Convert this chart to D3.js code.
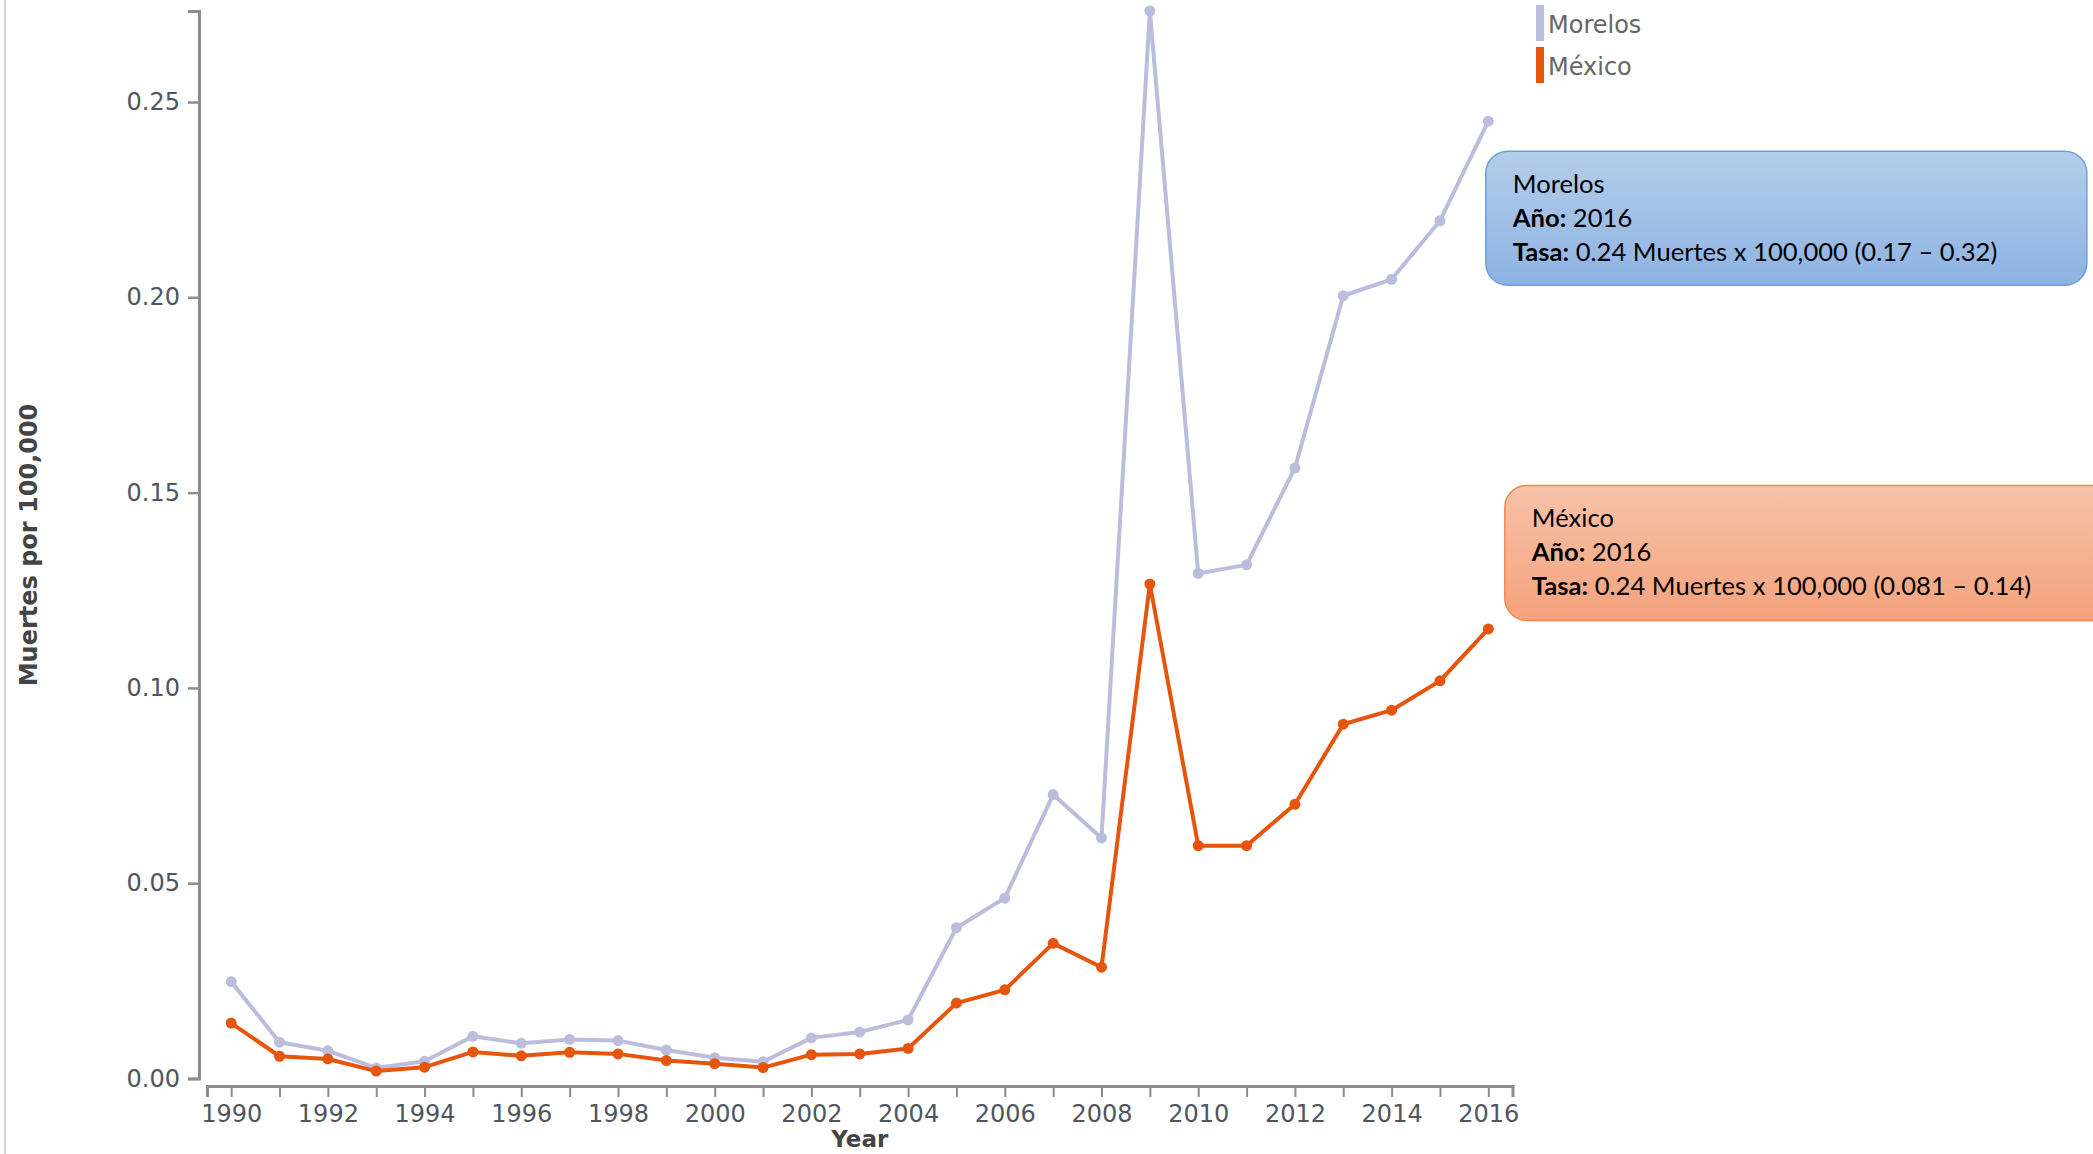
<!DOCTYPE html>
<html><head><meta charset="utf-8">
<script src="https://cdn.jsdelivr.net/npm/d3@7"></script>
<style>body{margin:0;background:#fff} svg{display:block}</style>
</head><body>
<svg id="chart" width="2093" height="1154"></svg>
<script>
// ---- data ----
const years = [1990,1991,1992,1993,1994,1995,1996,1997,1998,1999,2000,2001,2002,2003,2004,2005,2006,2007,2008,2009,2010,2011,2012,2013,2014,2015,2016];
const morelos = [0.0248,0.0093,0.0071,0.0027,0.0044,0.0108,0.0090,0.0100,0.0097,0.0073,0.0053,0.0043,0.0104,0.0119,0.0150,0.0386,0.0462,0.0727,0.0616,0.2733,0.1293,0.1315,0.1563,0.2004,0.2046,0.2196,0.2451];
const mexico = [0.0142,0.0057,0.0050,0.0019,0.0029,0.0068,0.0058,0.0067,0.0063,0.0046,0.0038,0.0028,0.0061,0.0063,0.0077,0.0193,0.0227,0.0346,0.0285,0.1266,0.0596,0.0596,0.0702,0.0907,0.0943,0.1018,0.1151];
const seriesNames = ["Morelos", "México"];
const seriesColors = ["#bcbddc", "#e6550d"];
const yTicks = [0, 0.05, 0.10, 0.15, 0.20, 0.25];
const xLabelYears = [1990,1992,1994,1996,1998,2000,2002,2004,2006,2008,2010,2012,2014,2016];
const yTitle = "Muertes por 100,000";
const xTitle = "Year";
// tooltip contents
const tipSeries = ["Morelos", "México"];
const tipYear = [2016, 2016];
const tipRate = ["0.24", "0.24"];
const tipCI = ["0.17 – 0.32", "0.081 – 0.14"];

// ---- chart ----
const svg = d3.select("#chart");
const axisFont = "'DejaVu Sans', Verdana, sans-serif";

// page border line at left
svg.append("line").attr("x1",5).attr("x2",5).attr("y1",0).attr("y2",1154)
  .attr("stroke","#d4d4d4").attr("stroke-width",2);

const x = d3.scaleLinear().domain([d3.min(years)-0.5, d3.max(years)+0.5]).range([207, 1512.5]);
const y = d3.scaleLinear().domain([0, d3.max(morelos.concat(mexico))]).range([1078.5, 11]);

// Y axis
const gy = svg.append("g").attr("transform","translate(199,0)")
  .call(d3.axisLeft(y).tickValues(yTicks).tickFormat(d3.format(".2f")).tickSize(11).tickPadding(8));
gy.select(".domain").attr("stroke","#8c8c8c").attr("stroke-width",3);
gy.selectAll(".tick line").attr("stroke","#8c8c8c").attr("stroke-width",2.5);
gy.selectAll(".tick text").attr("font-family",axisFont).attr("font-size",24).attr("fill","#505560");

// X axis
const gx = svg.append("g").attr("transform","translate(0,1086)")
  .call(d3.axisBottom(x).tickValues(years)
    .tickFormat(d => xLabelYears.includes(d) ? String(d) : "")
    .tickSize(11).tickPadding(8));
gx.select(".domain").attr("stroke","#8c8c8c").attr("stroke-width",3);
gx.selectAll(".tick line").attr("stroke","#8c8c8c").attr("stroke-width",2);
gx.selectAll(".tick text").attr("font-family",axisFont).attr("font-size",24).attr("fill","#505560");

// axis titles
svg.append("text").attr("transform","translate(37,545) rotate(-90)")
  .attr("text-anchor","middle").attr("font-family",axisFont).attr("font-weight","bold")
  .attr("font-size",24).attr("fill","#444").text(yTitle);
svg.append("text").attr("x",(x.range()[0]+x.range()[1])/2).attr("y",1147)
  .attr("text-anchor","middle").attr("font-family",axisFont).attr("font-weight","bold")
  .attr("font-size",23).attr("fill","#444").text(xTitle);

// lines
const seriesData = [morelos, mexico];
const line = d3.line().x((d,i) => x(years[i])).y(d => y(d));
seriesData.forEach((vals, k) => {
  const g = svg.append("g");
  g.append("path").datum(vals).attr("d", line).attr("fill","none")
    .attr("stroke", seriesColors[k]).attr("stroke-width",4).attr("stroke-linejoin","round");
  g.selectAll("circle").data(vals).join("circle")
    .attr("cx",(d,i)=>x(years[i])).attr("cy",d=>y(d)).attr("r",5.5).attr("fill",seriesColors[k]);
});

// legend
const lg = svg.append("g").attr("transform","translate(1536,5)");
seriesNames.forEach((n,k) => {
  lg.append("rect").attr("x",0).attr("y",k*42).attr("width",8).attr("height",36).attr("fill",seriesColors[k]);
  lg.append("text").attr("x",12).attr("y",k*42+28).attr("font-family",axisFont)
    .attr("font-size",24).attr("fill","#666").text(n);
});

// tooltips
const defs = svg.append("defs");
const tipStyles = [
  {top:"#b5cdea", bot:"#8db3e2", border:"#6a9fd8"},
  {top:"#f8c3aa", bot:"#f4a27c", border:"#ef8a4e"}
];
tipStyles.forEach((s,k) => {
  const gr = defs.append("linearGradient").attr("id","tipgrad"+k).attr("x1",0).attr("x2",0).attr("y1",0).attr("y2",1);
  gr.append("stop").attr("offset","0%").attr("stop-color",s.top);
  gr.append("stop").attr("offset","100%").attr("stop-color",s.bot);
});
const tipVals = [morelos, mexico];
const tipOffsets = [{dx:-2.5, dy:30}, {dx:16.5, dy:-143.5}];
const tipSizes = [{w:601,h:134},{w:620,h:135}];
const tipFont = "Lato, 'Open Sans', sans-serif";
tipSeries.forEach((name,k) => {
  const idx = years.indexOf(tipYear[k]);
  const px = x(tipYear[k]) + tipOffsets[k].dx;
  const py = y(tipVals[k][idx]) + tipOffsets[k].dy;
  const g = svg.append("g").attr("transform",`translate(${px},${py})`);
  g.append("rect").attr("x",0).attr("y",0).attr("width",tipSizes[k].w).attr("height",tipSizes[k].h)
    .attr("rx",22).attr("fill",`url(#tipgrad${k})`).attr("stroke",tipStyles[k].border).attr("stroke-width",1.5);
  const t = g.append("text").attr("font-family",tipFont).attr("font-size",25.6).attr("fill","#000");
  t.append("tspan").attr("x",27).attr("y",42).text(name);
  const l2 = t.append("tspan").attr("x",27).attr("y",76);
  l2.append("tspan").attr("font-weight","bold").text("Año:");
  l2.append("tspan").text(" " + tipYear[k]);
  const l3 = t.append("tspan").attr("x",27).attr("y",110);
  l3.append("tspan").attr("font-weight","bold").text("Tasa:");
  l3.append("tspan").text(` ${tipRate[k]} Muertes x 100,000 (${tipCI[k]})`);
});
</script>
</body></html>
